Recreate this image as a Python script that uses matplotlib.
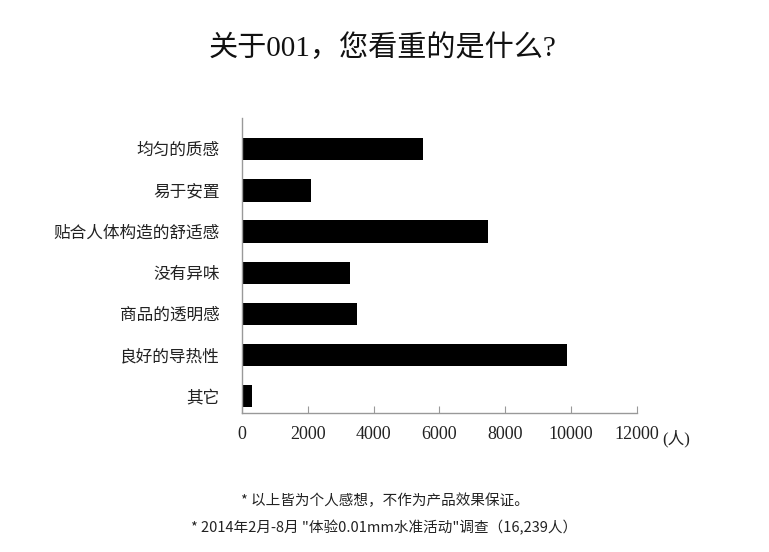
import numpy as np
import matplotlib.pyplot as plt

categories = ["均匀的质感", "易于安置", "贴合人体构造的舒适感", "没有异味",
              "商品的透明感", "良好的导热性", "其它"]
counts = [5500, 2100, 7480, 3290, 3500, 9870, 300]
xticks = [0, 2000, 4000, 6000, 8000, 10000, 12000]

serif = ["Liberation Serif", "Noto Sans CJK SC"]
sans = ["Noto Sans CJK SC", "DejaVu Sans"]

fig = plt.figure(figsize=(7.69, 5.52), dpi=100)
ax = fig.add_axes([0.3147, 0.2518, 0.5136, 0.5344])

y = np.arange(len(categories))
ax.barh(y, counts, height=0.54, color="black")
ax.set_ylim(len(categories) - 1 + 0.41, -0.76)
ax.set_xlim(0, 12000)

ax.set_yticks(y)
ax.set_yticklabels(categories, family=serif, fontsize=12, color="#222222")
ax.tick_params(axis="y", length=0, pad=16)
ax.set_xticks(xticks)
ax.set_xticklabels([str(t) for t in xticks], family=serif, fontsize=13, color="#222222")
ax.tick_params(axis="x", direction="in", length=5, color="#999999", pad=9)
# unit sits right after the last tick label
ax.text(1.064, -0.088, "(人)", transform=ax.transAxes, family=serif,
        fontsize=12, color="#222222", va="center", ha="left")

for s in ["top", "right"]:
    ax.spines[s].set_visible(False)
for s in ["left", "bottom"]:
    ax.spines[s].set_color("#999999")
    ax.spines[s].set_linewidth(1.0)

fig.text(0.497, 0.913, "关于001，您看重的是什么?", family=serif, fontsize=21,
         ha="center", va="center", color="#111111")
fig.text(0.5, 0.092, "* 以上皆为个人感想，不作为产品效果保证。", family=sans,
         fontsize=10.5, ha="center", va="center", color="#222222")
fig.text(0.5, 0.044, "* 2014年2月-8月 \"体验0.01mm水准活动\"调查（16,239人）", family=sans,
         fontsize=10.5, ha="center", va="center", color="#222222")

fig.savefig("out.png", dpi=100)
